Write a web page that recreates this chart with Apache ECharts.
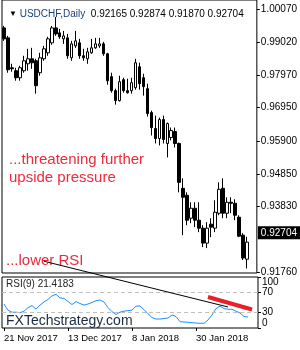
<!DOCTYPE html>
<html>
<head>
<meta charset="utf-8">
<script src="https://cdn.jsdelivr.net/npm/echarts@6/dist/echarts.min.js"></script>
<style>
html, body { margin: 0; padding: 0; background: #fff; }
#chart { width: 300px; height: 350px; }
</style>
</head>
<body>
<div id="chart"></div>
<script>
let dates = [
    '21 Nov 2017', '22 Nov 2017', '23 Nov 2017', '24 Nov 2017', '27 Nov 2017', '28 Nov 2017', '29 Nov 2017', '30 Nov 2017',
    '1 Dec 2017', '4 Dec 2017', '5 Dec 2017', '6 Dec 2017', '7 Dec 2017', '8 Dec 2017', '11 Dec 2017', '12 Dec 2017',
    '13 Dec 2017', '14 Dec 2017', '15 Dec 2017', '18 Dec 2017', '19 Dec 2017', '20 Dec 2017', '21 Dec 2017', '22 Dec 2017',
    '26 Dec 2017', '27 Dec 2017', '28 Dec 2017', '29 Dec 2017', '2 Jan 2018', '3 Jan 2018', '4 Jan 2018', '5 Jan 2018',
    '8 Jan 2018', '9 Jan 2018', '10 Jan 2018', '11 Jan 2018', '12 Jan 2018', '15 Jan 2018', '16 Jan 2018', '17 Jan 2018',
    '18 Jan 2018', '19 Jan 2018', '22 Jan 2018', '23 Jan 2018', '24 Jan 2018', '25 Jan 2018', '26 Jan 2018', '29 Jan 2018',
    '30 Jan 2018', '31 Jan 2018', '1 Feb 2018', '2 Feb 2018', '5 Feb 2018', '6 Feb 2018', '7 Feb 2018', '8 Feb 2018',
    '9 Feb 2018', '12 Feb 2018', '13 Feb 2018', '14 Feb 2018', '15 Feb 2018', '16 Feb 2018'
];

// open, close, low, high
let candles = [
    [0.99472, 0.99126, 0.99063, 0.99535],
    [0.99157, 0.98150, 0.98056, 0.99220],
    [0.98213, 0.98181, 0.98087, 0.98339],
    [0.98118, 0.97898, 0.97804, 0.98213],
    [0.97898, 0.98213, 0.97804, 0.98276],
    [0.98118, 0.98433, 0.98056, 0.98591],
    [0.98339, 0.98496, 0.98118, 0.98811],
    [0.98496, 0.98370, 0.98181, 0.98842],
    [0.98433, 0.97646, 0.97395, 0.98496],
    [0.98056, 0.98528, 0.97961, 0.98685],
    [0.98496, 0.98811, 0.98433, 0.98905],
    [0.98685, 0.99126, 0.98591, 0.99189],
    [0.99000, 0.99472, 0.98937, 0.99535],
    [0.99472, 0.99283, 0.99220, 0.99818],
    [0.99315, 0.99189, 0.99126, 0.99440],
    [0.99126, 0.99220, 0.98968, 0.99377],
    [0.99157, 0.98591, 0.98496, 0.99283],
    [0.98528, 0.98968, 0.98433, 0.99063],
    [0.98905, 0.99063, 0.98842, 0.99377],
    [0.99000, 0.98591, 0.98496, 0.99126],
    [0.98591, 0.98528, 0.98433, 0.98811],
    [0.98496, 0.98716, 0.98339, 0.98842],
    [0.98685, 0.98842, 0.98654, 0.99126],
    [0.98842, 0.98968, 0.98811, 0.99157],
    [0.98905, 0.98968, 0.98842, 0.99157],
    [0.98968, 0.98654, 0.98591, 0.99031],
    [0.98654, 0.97804, 0.97678, 0.98685],
    [0.97930, 0.97489, 0.97426, 0.98056],
    [0.97489, 0.97174, 0.97048, 0.97552],
    [0.97174, 0.97772, 0.97143, 0.97961],
    [0.97835, 0.97489, 0.97426, 0.97898],
    [0.97489, 0.97426, 0.97395, 0.97867],
    [0.97489, 0.97741, 0.97395, 0.97898],
    [0.97583, 0.98370, 0.97520, 0.98496],
    [0.98244, 0.97709, 0.97520, 0.98370],
    [0.97898, 0.97615, 0.97332, 0.98024],
    [0.97552, 0.96765, 0.96671, 0.97709],
    [0.96796, 0.96324, 0.96073, 0.96859],
    [0.96293, 0.95978, 0.95821, 0.96702],
    [0.95978, 0.96576, 0.95758, 0.96639],
    [0.96576, 0.95947, 0.95821, 0.96702],
    [0.95821, 0.96450, 0.95380, 0.96482],
    [0.96010, 0.96230, 0.95915, 0.96324],
    [0.96198, 0.95821, 0.95695, 0.96324],
    [0.95821, 0.94593, 0.94278, 0.95852],
    [0.94404, 0.94121, 0.92925, 0.94719],
    [0.94184, 0.93397, 0.93240, 0.94278],
    [0.93460, 0.93775, 0.93303, 0.93964],
    [0.93775, 0.93397, 0.93177, 0.93964],
    [0.93397, 0.93145, 0.93019, 0.93964],
    [0.93145, 0.92673, 0.92547, 0.93240],
    [0.92673, 0.93145, 0.92516, 0.93334],
    [0.93271, 0.93177, 0.92862, 0.93460],
    [0.93145, 0.93649, 0.93019, 0.94027],
    [0.93617, 0.94373, 0.93554, 0.94593],
    [0.94404, 0.93617, 0.93460, 0.94719],
    [0.93617, 0.93964, 0.93460, 0.94121],
    [0.93964, 0.93932, 0.93617, 0.94121],
    [0.93932, 0.93554, 0.93397, 0.94058],
    [0.93491, 0.92893, 0.92862, 0.93554],
    [0.92925, 0.92201, 0.92138, 0.92988],
    [0.92165, 0.92704, 0.91870, 0.92874]
];

let rsi = [
    47, 35, 31, 31, 30, 33, 40, 44, 37, 45,
    51, 56, 63, 66, 59, 58, 52, 46, 52, 48,
    45, 47, 50, 53.5, 55, 51, 40, 32, 26.5, 31,
    33, 34, 35, 43, 43, 36, 28, 20.5, 17.6, 17.6,
    18.6, 19.6, 25.5, 22.5, 12.4, 11.8, 11.2, 10.4, 9.8, 9.2,
    9.2, 15.7, 25.5, 38, 43, 38, 36.7, 36.7, 33, 29.4,
    22.5, 21.4183
];

let priceTicks = [1.00070, 0.99020, 0.97970, 0.96950, 0.95900, 0.94850, 0.93830, 0.91760];
let rsiTicks = [0, 30, 70, 100];
let rsiLevels = [30, 70];
let dateTicks = ['21 Nov 2017', '13 Dec 2017', '8 Jan 2018', '30 Jan 2018'];

// hand drawn trend lines on the RSI window: [bar index, rsi]
let rsiTrendLine = [[10, 130.9], [56, 41.2]];
let rsiRedLine = [[51, 60.8], [62, 36.3]];

let labelFont = 'Liberation Sans';
let noteColor = '#ee2a3c';

let last = candles[candles.length - 1];
let headerText = '{tri|\u25BC} {name|USDCHF,Daily}  {val|' +
    last[0].toFixed(5) + ' ' + last[3].toFixed(5) + ' ' + last[2].toFixed(5) + ' ' + last[1].toFixed(5) + '}';

function showDate(index, value) {
    return dateTicks.indexOf(value) >= 0;
}

let chart = echarts.init(document.getElementById('chart'));
let option = {
    animation: false,
    backgroundColor: '#fff',
    textStyle: { fontFamily: labelFont },
    title: {
        text: headerText,
        left: 4,
        top: 4,
        textStyle: {
            fontWeight: 'normal',
            fontSize: 10,
            rich: {
                tri: { fontSize: 8, color: '#000', fontWeight: 'normal' },
                name: { fontSize: 10, color: '#1a3f7a', fontFamily: labelFont, fontWeight: 'normal' },
                val: { fontSize: 10, color: '#000', fontFamily: labelFont, fontWeight: 'normal' }
            }
        }
    },
    grid: [
        { left: 2, right: 42, top: -1, bottom: 77, show: true, borderColor: '#000', borderWidth: 1 },
        { left: 2, right: 42, top: 277, bottom: 22, show: true, borderColor: '#000', borderWidth: 1 }
    ],
    xAxis: [
        {
            type: 'category', gridIndex: 0, data: dates, max: 63,
            axisLine: { show: false }, axisTick: { show: false }, axisLabel: { show: false }
        },
        {
            type: 'category', gridIndex: 1, data: dates, max: 63,
            axisLine: { show: false },
            axisTick: { show: true, interval: showDate, alignWithLabel: true, length: 3, lineStyle: { color: '#000' } },
            axisLabel: { interval: showDate, align: 'left', margin: 5, fontSize: 9.5, color: '#000', fontFamily: labelFont }
        }
    ],
    yAxis: [
        {
            type: 'value', gridIndex: 0, position: 'right',
            min: 0.91729, max: 1.003533,
            splitLine: { show: false },
            axisLine: { show: false },
            axisTick: { show: true, customValues: priceTicks, length: 3, lineStyle: { color: '#000' } },
            axisLabel: {
                customValues: priceTicks, margin: 4, fontSize: 10, color: '#000', fontFamily: labelFont,
                formatter: function (v) { return v.toFixed(5); }
            }
        },
        {
            type: 'value', gridIndex: 1, position: 'right',
            min: 0, max: 100,
            splitLine: { show: false },
            axisLine: { show: false },
            axisTick: { show: true, customValues: rsiTicks, length: 3, lineStyle: { color: '#000' } },
            axisLabel: {
                customValues: rsiTicks, margin: 4, fontSize: 10, color: '#000', fontFamily: labelFont,
                formatter: function (v) {
                    if (v === 100) return '{t|100}';
                    if (v === 0) return '{b|0}';
                    return String(v);
                },
                rich: {
                    t: { padding: [11, 0, 0, 0], fontSize: 10, color: '#000' },
                    b: { padding: [0, 0, 9, 0], fontSize: 10, color: '#000' }
                }
            }
        }
    ],
    series: [
        {
            name: 'USDCHF',
            type: 'candlestick',
            xAxisIndex: 0, yAxisIndex: 0,
            barWidth: 3,
            data: candles,
            itemStyle: {
                color: '#fff', color0: '#000',
                borderColor: '#000', borderColor0: '#000', borderWidth: 1
            },
            markLine: {
                silent: true,
                symbol: 'none',
                lineStyle: { color: 'rgba(0,0,0,0)', width: 1, type: 'solid' },
                label: {
                    show: true,
                    position: 'end', distance: 1,
                    formatter: last[1].toFixed(5),
                    color: '#fff', backgroundColor: '#000',
                    padding: [2, 3, 1, 3], fontSize: 10, fontFamily: labelFont
                },
                data: [{ yAxis: last[1] }]
            }
        },
        {
            name: 'RSI(9)',
            type: 'line',
            xAxisIndex: 1, yAxisIndex: 1,
            data: rsi,
            symbol: 'none',
            lineStyle: { color: '#1e90ff', width: 1 },
            markLine: {
                silent: true,
                symbol: 'none',
                label: { show: false },
                lineStyle: { color: '#c0c0c0', type: [4, 3], width: 1 },
                data: rsiLevels.map(function (v) { return { yAxis: v }; })
            }
        },
        {
            name: 'RSI trend',
            type: 'line',
            xAxisIndex: 1, yAxisIndex: 1,
            data: rsiTrendLine,
            clip: false,
            symbol: 'none',
            lineStyle: { color: '#000', width: 1 },
            z: 5
        },
        {
            name: 'RSI falling',
            type: 'line',
            xAxisIndex: 1, yAxisIndex: 1,
            data: rsiRedLine,
            clip: false,
            symbol: 'none',
            lineStyle: { color: '#e8202a', width: 4 },
            z: 6
        }
    ],
    graphic: [
        {
            type: 'text', left: 6, top: 279,
            style: { text: 'RSI(9) ' + rsi[rsi.length - 1].toFixed(4), font: '10px "Liberation Sans"', fill: '#222' }
        },
        {
            type: 'text', left: 9, top: 151,
            style: { text: '...threatening further\nupside pressure', font: '15px "Liberation Sans"', lineHeight: 18, fill: noteColor }
        },
        {
            type: 'text', left: 6, top: 253,
            style: { text: '...lower RSI', font: '15px "Liberation Sans"', fill: noteColor }
        },
        {
            type: 'text', left: 6, top: 314,
            style: { text: 'FXTechstrategy.com', font: '14px "Liberation Sans"', fill: '#1b2a41' }
        }
    ]
};
chart.setOption(option);
</script>
</body>
</html>
